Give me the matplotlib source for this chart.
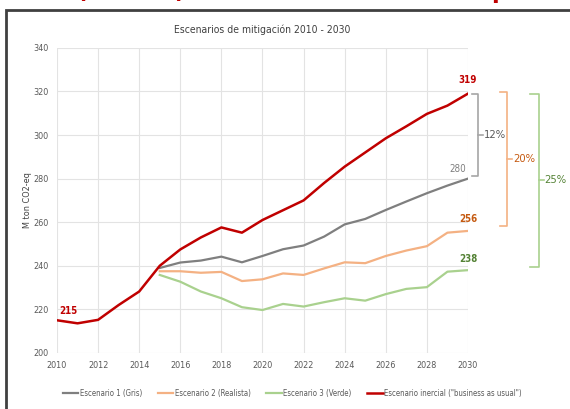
import matplotlib.pyplot as plt
import matplotlib.transforms as mtransforms
from matplotlib.patches import Rectangle

plt.rcParams['font.family'] = ['DejaVu Sans']
plt.rcParams['font.stretch'] = 'condensed'

# Data
years = list(range(2010, 2031))
inercial = [215, 213.6, 215.2, 222, 228.2, 240, 247.5, 253, 257.6, 255.2, 261,
            265.5, 270, 278, 285.5, 292, 298.5, 304, 309.7, 313.5, 319]
esc1_years = list(range(2015, 2031))
esc1 = [239, 241.5, 242.4, 244.2, 241.6, 244.5, 247.6, 249.3, 253.4, 259, 261.5,
        265.6, 269.5, 273.3, 276.8, 280]
esc2 = [237.5, 237.5, 236.8, 237.2, 233, 233.8, 236.5, 235.8, 238.8, 241.6, 241.2,
        244.5, 247, 249, 255.2, 256]
esc3 = [235.8, 232.7, 228.2, 225.1, 221, 219.7, 222.5, 221.3, 223.3, 225.1, 224,
        227, 229.4, 230.2, 237.3, 238]

labels = ['Escenario 1 (Gris)', 'Escenario 2 (Realista)', 'Escenario 3 (Verde)',
          'Escenario inercial ("business as usual")']
colors = ['#7F7F7F', '#F4B183', '#A9D18E', '#C00000']

fig = plt.figure(figsize=(5.7, 4.09), dpi=100)
ax = fig.add_axes([0.1, 0.137, 0.721, 0.746])

ax.plot(esc1_years, esc1, color=colors[0], lw=1.6, label=labels[0])
ax.plot(esc1_years, esc2, color=colors[1], lw=1.6, label=labels[1])
ax.plot(esc1_years, esc3, color=colors[2], lw=1.6, label=labels[2])
ax.plot(years, inercial, color=colors[3], lw=1.8, label=labels[3])

ax.set_xlim(2010, 2030)
ax.set_ylim(200, 340)
ax.set_xticks(range(2010, 2031, 2))
ax.set_yticks(range(200, 341, 20))
ax.grid(True, color='#E3E3E3', lw=0.8)
ax.set_axisbelow(True)
for s in ax.spines.values():
    s.set_visible(False)
ax.tick_params(length=0, labelsize=6.5, colors='#595959', pad=6)
ax.set_ylabel('M ton CO2-eq', fontsize=6.5, color='#404040', labelpad=1)
ax.set_title('Escenarios de mitigación 2010 - 2030', fontsize=7.5,
             color='#404040', pad=11)

# End labels
ax.text(2010.1, inercial[0] + 2, '215', color='#C00000', fontsize=7, fontweight='bold',
        va='bottom')
ax.text(2030, inercial[-1] + 4, '319', color='#C00000', fontsize=7, fontweight='bold',
        ha='center', va='bottom')
ax.text(2029.9, esc1[-1] + 2, '280', color='#7F7F7F', fontsize=7, ha='right', va='bottom')
ax.text(2030, esc2[-1] + 3, '256', color='#C55A11', fontsize=7, fontweight='bold',
        ha='center', va='bottom')
ax.text(2030, esc3[-1] + 3, '238', color='#548235', fontsize=7, fontweight='bold',
        ha='center', va='bottom')

# Brackets
trans = mtransforms.blended_transform_factory(ax.transAxes, ax.transData)
def bracket(x0, x1, top, bottom, color, txt, tcolor):
    mid = (top + bottom) / 2
    ax.plot([x0, x1, x1, x0], [top, top, bottom, bottom], color=color, lw=1.2,
            transform=trans, clip_on=False)
    ax.plot([x1, x1 + 0.012], [mid, mid], color=color, lw=1.2,
            transform=trans, clip_on=False)
    ax.text(x1 + 0.014, mid, txt, color=tcolor, fontsize=8, va='center',
            transform=trans, clip_on=False)

bracket(1.01, 1.025, 318.9, 281.2, '#A6A6A6', '12%', '#595959')
bracket(1.078, 1.095, 319.8, 258.3, '#F4B183', '20%', '#C55A11')
bracket(1.152, 1.172, 318.9, 239.5, '#A9D18E', '25%', '#548235')

fig.legend(*ax.get_legend_handles_labels(), loc='center', bbox_to_anchor=(0.513, 0.038),
           ncol=4, frameon=False, fontsize=5.6, handlelength=2.0, columnspacing=2.0,
           handletextpad=0.2, labelcolor='#595959')

# Frame and clipped heading
fig.patches.append(Rectangle((0.0105, -0.1), 1.2, 0.1 + 0.9756, transform=fig.transFigure,
                             fill=False, edgecolor='#404040', lw=2))
fig.text(0.133, 1.006, '(', color='#C00000', fontsize=18, fontweight='bold', va='baseline')
fig.text(0.305, 1.006, ')', color='#C00000', fontsize=18, fontweight='bold', va='baseline')
fig.text(0.862, 1.006, 'p', color='#C00000', fontsize=18, fontweight='bold', va='baseline')

fig.savefig('out.png', dpi=100)
